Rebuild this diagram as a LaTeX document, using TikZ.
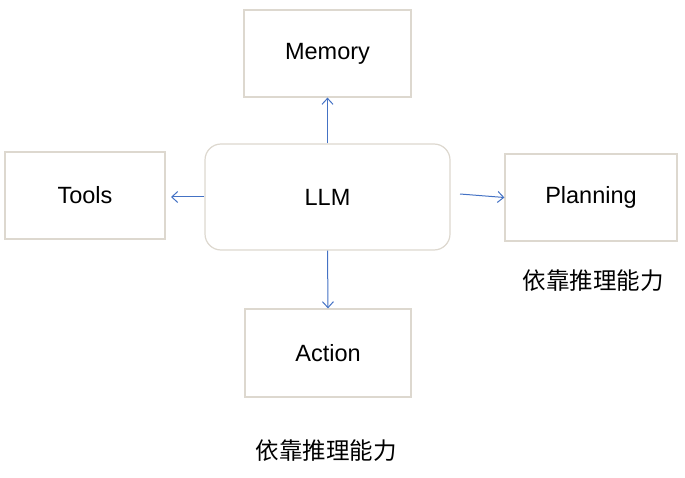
\documentclass[tikz,border=0pt]{standalone}
\usepackage{fontspec}
\setmainfont{Liberation Sans}
\newfontfamily\cjk{Noto Sans CJK SC}
\usetikzlibrary{arrows.meta}
\definecolor{boxline}{HTML}{DDD8CF}
\definecolor{arrowblue}{HTML}{4472C4}
\tikzset{
  box/.style={draw=boxline, line width=1.2pt, fill=white, inner sep=0pt, font=\fontsize{23.5}{27}\selectfont},
  conn/.style={draw=arrowblue, line width=1pt, -{Straight Barb[length=6pt,width=11pt]}},
  note/.style={font=\cjk\fontsize{23.5}{27}\selectfont, inner sep=0pt}
}
\begin{document}
\begin{tikzpicture}[x=1pt,y=-1pt]
\useasboundingbox (0,0) rectangle (685,478);
\node[box, minimum width=167pt, minimum height=87pt] (mem) at (327.5,53.5) {Memory};
\node[box, minimum width=160pt, minimum height=87pt] (tools) at (85,195.5) {Tools};
\node[box, rounded corners=16pt, minimum width=245pt, minimum height=106pt] (llm) at (327.5,197) {LLM};
\node[box, minimum width=172pt, minimum height=87pt] (plan) at (591,197.5) {Planning};
\node[box, minimum width=166pt, minimum height=88pt] (act) at (328,353) {Action};
\node[note] (n1) at (593,281) {依靠推理能力};
\node[note] (n2) at (326,451) {依靠推理能力};
\coordinate (rs) at (460,194);
\coordinate (lt) at (171,197);
\draw[conn] (llm.north) -- (mem.south);
\draw[conn] (llm.west) -- (lt);
\draw[conn] (rs) -- (plan.west);
\draw[conn] (llm.south) -- (act.north);
\end{tikzpicture}
\end{document}
